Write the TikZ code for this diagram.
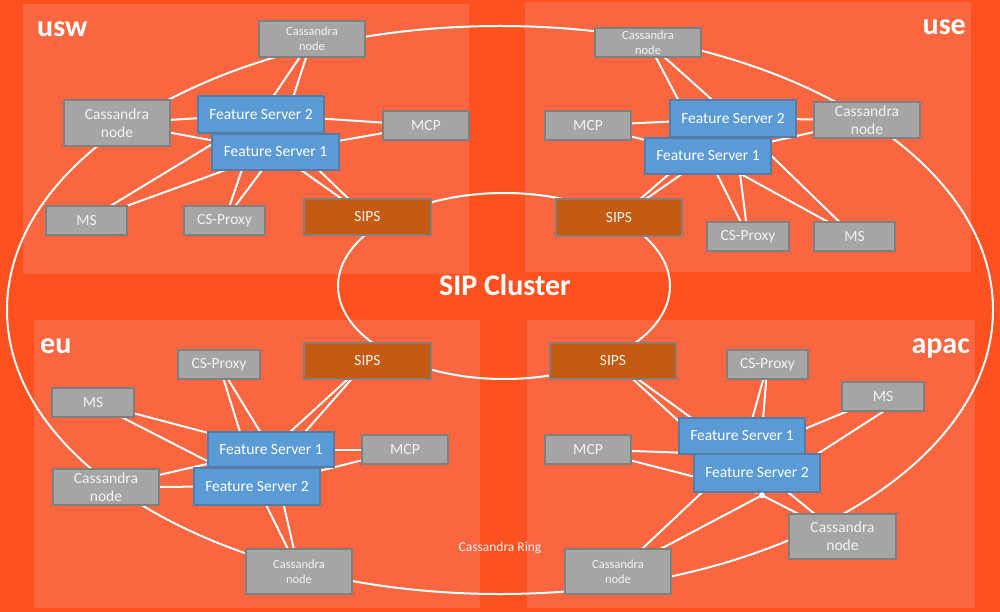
\documentclass[tikz,border=0pt]{standalone}
\usepackage{fontspec}
\setmainfont{Carlito}
\usetikzlibrary{calc}
\definecolor{bgc}{RGB}{255,81,32}
\definecolor{panelc}{RGB}{249,102,64}
\definecolor{grayf}{RGB}{165,165,165}
\definecolor{grayd}{RGB}{127,127,127}
\definecolor{bluef}{RGB}{91,155,213}
\definecolor{blued}{RGB}{84,124,166}
\definecolor{sipsf}{RGB}{197,90,17}
\definecolor{txtg}{RGB}{242,242,242}
\pgfdeclarelayer{back}
\pgfdeclarelayer{wires}
\pgfsetlayers{back,wires,main}
\begin{document}
\begin{tikzpicture}[x=1pt,y=-1pt,
  box/.style={rectangle, inner sep=0pt, line width=1.5pt, align=center, text=txtg, font=\fontsize{15.5}{18}\selectfont},
  gbox/.style={box, fill=grayf, draw=grayd},
  fsbox/.style={box, fill=bluef, draw=blued, text=white},
  sbox/.style={box, fill=sipsf, draw=grayd},
  sz/.style 2 args={minimum width=#1pt, minimum height=#2pt},
  smallcass/.style={font=\fontsize{12.5}{15}\selectfont},
  bigcass/.style={font=\fontsize{15.5}{18}\selectfont},
  wire/.style={draw=white, line width=2pt},
  ring/.style={draw=white, line width=2pt},
  region/.style={text=white, inner sep=0pt, font=\fontsize{30}{30}\selectfont\bfseries},
  dotnode/.style={circle, fill=white, inner sep=0pt, minimum size=6pt}
]
\useasboundingbox (0,0) rectangle (1000,612);

% ---------- usw ----------
\node[gbox, sz={106}{36}, smallcass] (usw-ct) at (312,39) {Cassandra\\node};
\node[gbox, sz={106}{46}, bigcass] (usw-cl) at (117,123) {Cassandra\\node};
\node[fsbox, sz={126}{37}] (usw-fs2) at (261,114.5) {Feature Server 2};
\node[fsbox, sz={127}{36}] (usw-fs1) at (275.5,152) {Feature Server 1};
\node[gbox, sz={86}{29}] (usw-mcp) at (426,125.5) {MCP};
\node[gbox, sz={81}{29}] (usw-ms) at (86.5,220.5) {MS};
\node[gbox, sz={81}{29}] (usw-csp) at (224.5,220.5) {CS-Proxy};
\node[sbox, sz={127}{36}] (usw-sips) at (367.5,217) {SIPS};

% ---------- use ----------
\node[gbox, sz={106}{29}, smallcass] (use-ct) at (648,42.5) {Cassandra\\node};
\node[gbox, sz={86}{29}] (use-mcp) at (588,125.5) {MCP};
\node[fsbox, sz={126}{37}] (use-fs2) at (733,118.5) {Feature Server 2};
\node[gbox, sz={106}{36}, bigcass] (use-cr) at (867,120) {Cassandra\\node};
\node[fsbox, sz={126}{36}] (use-fs1) at (708,156) {Feature Server 1};
\node[sbox, sz={126}{37}] (use-sips) at (619,217.5) {SIPS};
\node[gbox, sz={82}{29}] (use-csp) at (748,236.5) {CS-Proxy};
\node[gbox, sz={81}{29}] (use-ms) at (854.5,236.5) {MS};

% ---------- eu ----------
\node[gbox, sz={82}{29}] (eu-csp) at (219,364.5) {CS-Proxy};
\node[sbox, sz={127}{36}] (eu-sips) at (367.5,361) {SIPS};
\node[gbox, sz={82}{29}] (eu-ms) at (93,402.5) {MS};
\node[fsbox, sz={126}{35}] (eu-fs1) at (271,449.5) {Feature Server 1};
\node[gbox, sz={86}{29}] (eu-mcp) at (405,449.5) {MCP};
\node[gbox, sz={106}{36}, bigcass] (eu-cl) at (106,487) {Cassandra\\node};
\node[fsbox, sz={126}{37}] (eu-fs2) at (257,486.5) {Feature Server 2};
\node[gbox, sz={106}{45}, smallcass] (eu-cb) at (299,571.5) {Cassandra\\node};

% ---------- apac ----------
\node[sbox, sz={126}{36}] (a-sips) at (613,361) {SIPS};
\node[gbox, sz={81}{29}] (a-csp) at (767.5,364.5) {CS-Proxy};
\node[gbox, sz={82}{29}] (a-ms) at (883,396.5) {MS};
\node[fsbox, sz={126}{36}] (a-fs1) at (742,436) {Feature Server 1};
\node[gbox, sz={86}{29}] (a-mcp) at (588,449.5) {MCP};
\node[fsbox, sz={126}{38}] (a-fs2) at (757,473) {Feature Server 2};
\node[gbox, sz={107}{45}, bigcass] (a-cr) at (842.5,536.5) {Cassandra\\node};
\node[gbox, sz={106}{45}, smallcass] (a-cb) at (618,571.5) {Cassandra\\node};
\node[dotnode] (a-dot) at ($(a-fs2.south)+(5,2.5)$) {};

% ---------- labels ----------
\node[region, anchor=base west] (lbl-usw) at (37,36.5) {usw};
\node[region, anchor=base east] (lbl-use) at (966,35) {use};
\node[region, anchor=base west] (lbl-eu) at (40,353) {eu};
\node[region, anchor=base east] (lbl-apac) at (970,353) {apac};
\node[text=white, inner sep=0pt, anchor=base, font=\fontsize{30}{30}\selectfont\bfseries] (lbl-sip) at (505,295) {SIP Cluster};
\node[text=txtg, inner sep=0pt, anchor=base, font=\fontsize{13.5}{15}\selectfont] (lbl-ring) at (500,551) {Cassandra Ring};

% ---------- background ----------
\begin{pgfonlayer}{back}
\fill[bgc] (0,0) rectangle (1000,612);
\fill[panelc] (23,4) rectangle (469,274);
\fill[panelc] (525,2) rectangle (971,272);
\fill[panelc] (34,320) rectangle (480,608);
\fill[panelc] (527,320) rectangle (975,608);
\end{pgfonlayer}

% ---------- rings and connectors ----------
\begin{pgfonlayer}{wires}
\draw[ring] (500,310) ellipse [x radius=493pt, y radius=284pt];
\draw[ring] (504,286) ellipse [x radius=166pt, y radius=93pt];

\foreach \n in {usw-ct,usw-cl,usw-mcp,usw-ms,usw-csp,usw-sips}{
  \draw[wire] (\n.center) -- (usw-fs1.center);
  \draw[wire] (\n.center) -- (usw-fs2.center);
}
\foreach \n in {use-ct,use-cr,use-mcp,use-ms,use-csp,use-sips}{
  \draw[wire] (\n.center) -- (use-fs1.center);
  \draw[wire] (\n.center) -- (use-fs2.center);
}
\foreach \n in {eu-cl,eu-cb,eu-mcp,eu-ms,eu-csp,eu-sips}{
  \draw[wire] (\n.center) -- (eu-fs1.center);
  \draw[wire] (\n.center) -- (eu-fs2.center);
}
\foreach \n in {a-sips,a-csp,a-mcp}{
  \draw[wire] (\n.center) -- (a-fs1.south);
  \draw[wire] (\n.center) -- (a-fs2.south);
}
\draw[wire] (a-ms.center) -- (a-fs1.south);
\draw[wire] (a-ms.south) -- (a-fs2.south);
\draw[wire] (a-cr.center) -- (a-fs1.south);
\draw[wire] (a-cr.center) -- (a-dot.center);
\draw[wire] (a-cb.center) -- (a-fs1.south);
\draw[wire] (a-cb.center) -- (a-dot.center);
\end{pgfonlayer}
\end{tikzpicture}
\end{document}
